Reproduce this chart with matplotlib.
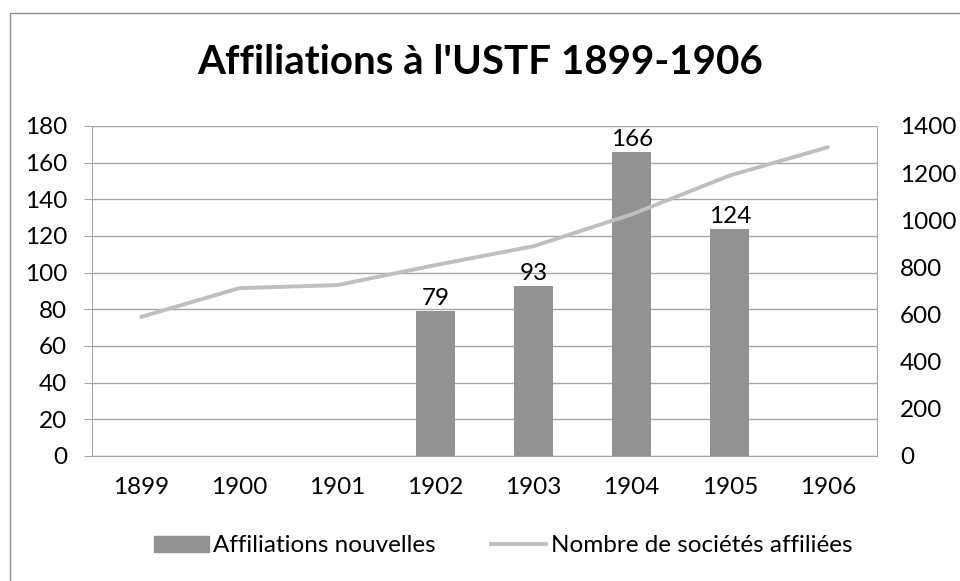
import matplotlib
matplotlib.use("Agg")
import matplotlib.pyplot as plt
from matplotlib.patches import Rectangle
from matplotlib.lines import Line2D
import numpy as np

years = ['1899', '1900', '1901', '1902', '1903', '1904', '1905', '1906']
nouvelles = [0, 0, 0, 79, 93, 166, 124, 0]
societes = [590, 712, 725, 810, 890, 1025, 1190, 1310]

plt.rcParams['font.family'] = ['Lato', 'DejaVu Sans']

W, H = 960, 581
FS = 17.5
fig = plt.figure(figsize=(W / 100, H / 100), dpi=100)
ax = fig.add_axes([92 / W, 1 - 456 / H, (877 - 92) / W, (456 - 126) / H])
ax2 = ax.twinx()

x = np.arange(len(years))
shown = [i for i, v in enumerate(nouvelles) if v > 0]
ax.bar([x[i] for i in shown], [nouvelles[i] for i in shown], width=0.4,
       color='#929292', zorder=2)
for i in shown:
    ax.text(x[i], nouvelles[i] + 1.0, str(nouvelles[i]), ha='center', va='bottom',
            fontsize=FS, color='black')

ax2.plot(x, societes, color='#BFBFBF', lw=2.8, solid_capstyle='round', zorder=3)

ax.set_xlim(-0.5, len(years) - 0.5)
ax.set_ylim(0, 180)
ax.set_yticks(range(0, 181, 20))
ax2.set_ylim(0, 1400)
ax2.set_yticks(range(0, 1401, 200))
ax.set_xticks(x)
ax.set_xticklabels(years)

ax.grid(axis='y', color='#A6A6A6', lw=1, zorder=0)
ax.set_axisbelow(True)
for a in (ax, ax2):
    for s in ['top', 'right', 'left', 'bottom']:
        a.spines[s].set_visible(False)
    a.tick_params(length=0, labelsize=FS, colors='black')
for s in ['left', 'bottom', 'right']:
    ax.spines[s].set_visible(True)
    ax.spines[s].set_color('#A6A6A6')
ax.tick_params(axis='y', length=6, color='#A6A6A6', direction='out', pad=12)
ax.tick_params(axis='x', pad=15)
ax2.tick_params(axis='y', pad=16.5)
ax2.grid(False)

fig.text(0.5, 1 - 62 / H, "Affiliations à l'USTF 1899-1906", ha='center', va='center',
         fontsize=29, fontweight='bold')

fig.patches.append(Rectangle((10 / W, -0.05), 960 / W, 1 - 13 / H + 0.05,
                             transform=fig.transFigure, fill=False,
                             edgecolor='#8C8C8C', lw=1))

handles = [Rectangle((0, 0), 1, 1, color='#929292'),
           Line2D([0], [0], color='#BFBFBF', lw=2.8)]
fig.legend(handles, ['Affiliations nouvelles', 'Nombre de sociétés affiliées'],
           loc='center', bbox_to_anchor=(503 / W, 1 - 546 / H), ncol=2, frameon=False,
           fontsize=FS, handlelength=2.26, handleheight=0.62, handletextpad=0.2,
           columnspacing=2.26, borderpad=0)

fig.savefig('out.png', dpi=100)
